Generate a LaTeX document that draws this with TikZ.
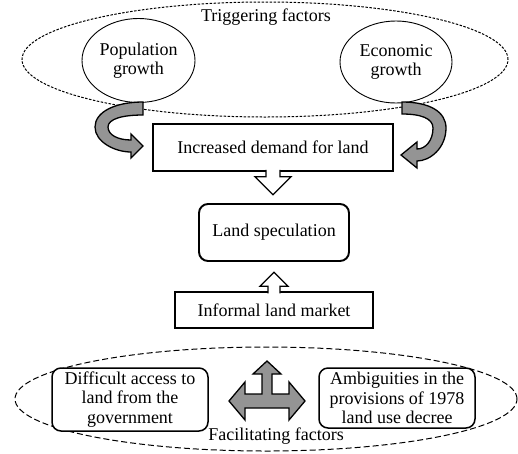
\documentclass[tikz,border=0pt]{standalone}
\usepackage{fontspec}
\setmainfont{Liberation Serif}
\usepackage{tikz}
\usetikzlibrary{shapes.geometric}

\tikzset{
	txt/.style={font=\fontsize{18}{19.5}\selectfont, align=center, inner sep=0pt},
	oval/.style={txt, ellipse, draw, line width=0.9pt},
	box/.style={txt, draw, fill=white, line width=1.5pt},
	rbox/.style={box, rounded corners=9pt},
	dotring/.style={ellipse, draw, line width=1pt, dash pattern=on 2.5pt off 1.5pt},
	dashring/.style={ellipse, draw, line width=1pt, dash pattern=on 6pt off 3pt},
	hollow/.style={draw, fill=white, line width=1.3pt},
	grayarrow/.style={draw, fill=black!42, line width=1.3pt}
}

\begin{document}
\begin{tikzpicture}[x=1pt,y=-1pt]
	\useasboundingbox (0,0) rectangle (518,453);
	% triggering factors
	\node[dotring, minimum width=486, minimum height=115] (trig) at (265,59.5) {};
	\node[txt] (triglabel) at (266,17) {Triggering factors};
	\node[oval, minimum width=113, minimum height=84] (pop) at (138.5,60.5) {Population\\growth};
	\node[oval, minimum width=112, minimum height=82] (eco) at (396,62) {Economic\\growth};
	
	\node[box, minimum width=240, minimum height=47] (demand) at (273,147.5) {Increased demand for land};
	\node[rbox, line width=1.9pt, minimum width=150, minimum height=57] (spec) at (274,232.5) {Land speculation};
	\node[box, minimum width=198, minimum height=36] (informal) at (274,310) {Informal land market};
	
	% curved arrows into the demand box
	\draw[grayarrow] (143,102) .. controls (115,102) and (95,112) .. (95,127) .. controls (95,142) and (115,152) .. (131,152)
		-- (131,158) -- (143,146) -- (131,134) -- (131,140) .. controls (118,140) and (108,135) .. (108,127)
		.. controls (108,119) and (122,115) .. (143,115) -- cycle;
	\draw[grayarrow] (402,102) .. controls (430,102) and (446,112) .. (446,128) .. controls (446,148) and (430,161) .. (417,161)
		-- (417,168) -- (401,155) -- (417,142) -- (417,149) .. controls (426,149) and (433,140) .. (433,128)
		.. controls (433,118) and (420,114) .. (402,114) -- cycle;
	
	%\draw[->] (demand) -- (spec);
	\draw[hollow, shift={(demand.south)}] (-7,-2) -- (-7,5) -- (-18,5) -- (0,23) -- (18,5) -- (7,5) -- (7,-2);
	\draw[hollow, shift={(informal.north)}] (-6,2) -- (-6,-5) -- (-14,-5) -- (0,-19) -- (14,-5) -- (6,-5) -- (6,2);
	
	% facilitating factors
	\node[dashring, minimum width=502, minimum height=104] (facil) at (266,399) {};
	\node[rbox, minimum width=156, minimum height=63] (access) at (130,399.5) {Difficult access to\\land from the\\government};
	\node[rbox, minimum width=156, minimum height=60] (decree) at (397,398) {Ambiguities in the\\provisions of 1978\\land use decree};
	\node[txt] (faclabel) at (276,436) {Facilitating factors};
	
	\coordinate (hub) at (267,401);
	\draw[grayarrow, shift={(hub)}] (0,-40) -- (14,-27) -- (5,-27) -- (5,-7) -- (22,-7) -- (22,-19) -- (38,0) -- (22,19)
		-- (22,7) -- (-22,7) -- (-22,19) -- (-38,0) -- (-22,-19) -- (-22,-7) -- (-5,-7) -- (-5,-27) -- (-14,-27) -- cycle;
\end{tikzpicture}
\end{document}
